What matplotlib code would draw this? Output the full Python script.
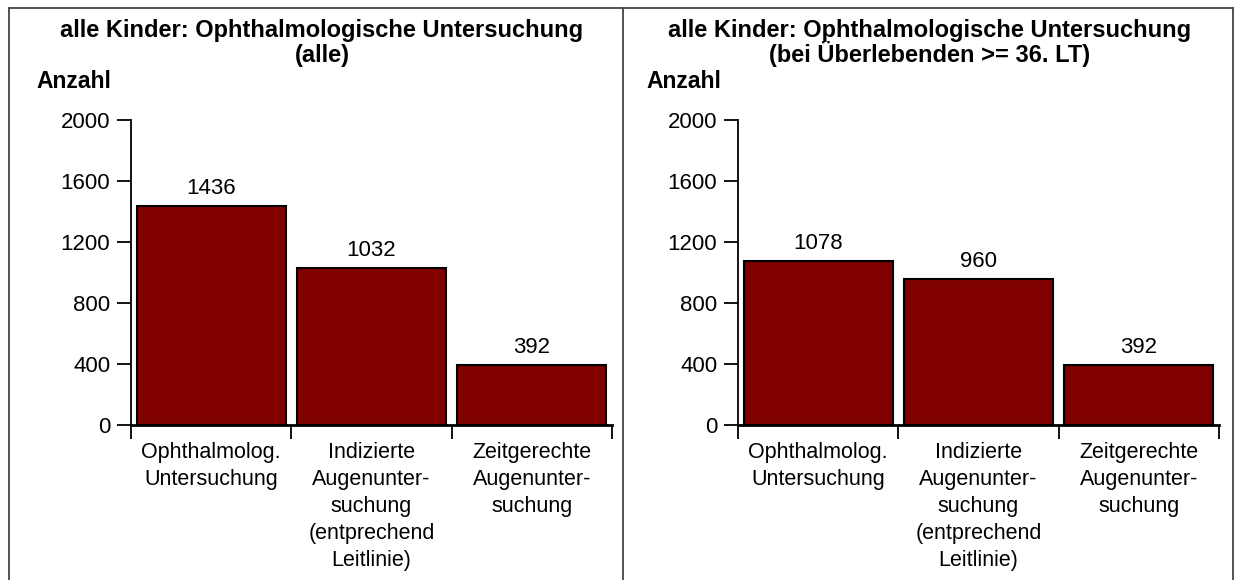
import numpy as np
import matplotlib
matplotlib.use('Agg')
import matplotlib.pyplot as plt
from matplotlib.lines import Line2D

# Daten
categories = ['Ophthalmolog.\nUntersuchung',
              'Indizierte\nAugenunter-\nsuchung\n(entprechend\nLeitlinie)',
              'Zeitgerechte\nAugenunter-\nsuchung']
werte_alle = [1436, 1032, 392]
werte_ueberlebende = [1078, 960, 392]
title_line1 = 'alle Kinder: Ophthalmologische Untersuchung'
subtitles = ['(alle)', '(bei Überlebenden >= 36. LT)']
y_ticks = [0, 400, 800, 1200, 1600, 2000]

W, H = 1237, 580
plt.rcParams['font.family'] = ['Liberation Sans', 'DejaVu Sans']

fig = plt.figure(figsize=(W / 100, H / 100), dpi=100)


def fx(px):
    return px / W


def fy(py):
    return 1 - py / H


bar_color = '#800000'

# Rahmen (oben, links, Mitte, rechts)
frame_kw = dict(color='#444444', lw=1.3)
fig.add_artist(Line2D([fx(9), fx(1233)], [fy(8), fy(8)], **frame_kw))
for xp in [9, 623, 1233]:
    fig.add_artist(Line2D([fx(xp), fx(xp)], [fy(8), 0], **frame_kw))

panels = [
    dict(values=werte_alle, sub=subtitles[0], ax_left=131, center=322, anzahl=36),
    dict(values=werte_ueberlebende, sub=subtitles[1], ax_left=738, center=930, anzahl=646),
]

for p in panels:
    ax = fig.add_axes([fx(p['ax_left']), fy(425), 481 / W, (425 - 120) / H])
    x = np.arange(len(categories))
    ax.bar(x, p['values'], width=0.93, color=bar_color, edgecolor='black', linewidth=1.5, zorder=2)
    for xi, v in zip(x, p['values']):
        ax.text(xi, v + 45, str(v), ha='center', va='bottom', fontsize=16)

    ax.set_xlim(-0.5, len(categories) - 0.5)
    ax.set_ylim(0, 2000)
    ax.set_yticks(y_ticks)
    ax.set_yticklabels([str(t) for t in y_ticks], fontsize=16)
    ax.set_xticks(x)
    ax.set_xticklabels(categories, fontsize=15.5, linespacing=1.38)
    ax.set_xticks(np.arange(-0.5, len(categories)), minor=True)
    ax.tick_params(axis='x', which='major', length=0, pad=12)
    ax.tick_params(axis='x', which='minor', length=10, width=1.3, direction='out')
    ax.tick_params(axis='y', length=10, width=1.3, pad=5)

    ax.spines['right'].set_color('none')
    ax.spines['top'].set_color('none')
    ax.spines['left'].set_linewidth(1.3)
    ax.spines['bottom'].set_linewidth(2)

    fig.text(fx(p['center']), fy(37), title_line1, ha='center', va='baseline',
             fontsize=17, fontweight='bold')
    fig.text(fx(p['center']), fy(62), p['sub'], ha='center', va='baseline',
             fontsize=17, fontweight='bold')
    fig.text(fx(p['anzahl']), fy(88), 'Anzahl', ha='left', va='baseline',
             fontsize=16.5, fontweight='bold')

plt.savefig('out.png', dpi=100)
